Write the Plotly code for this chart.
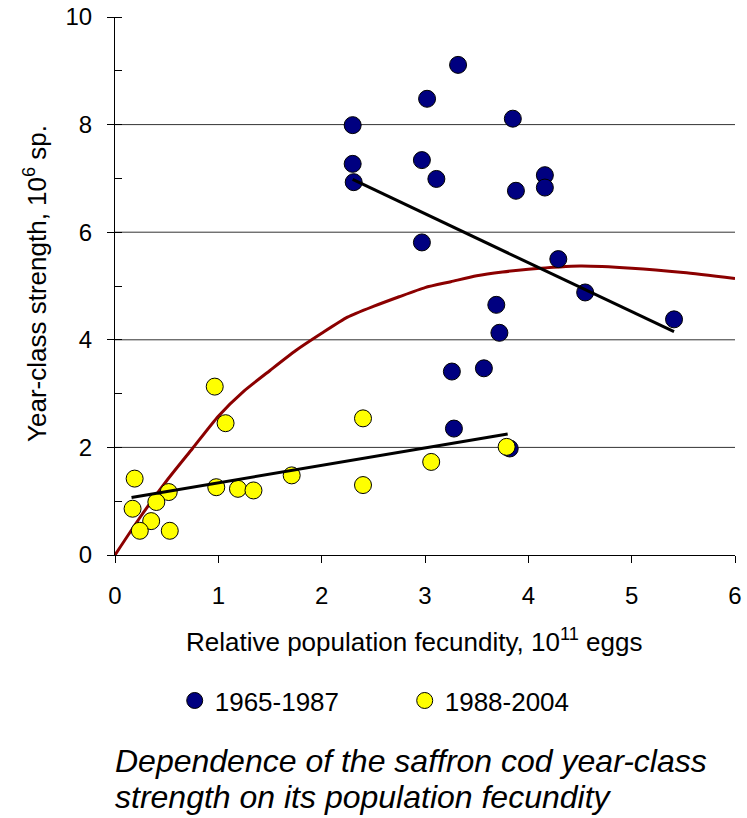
import plotly.graph_objects as go

# 1965-1987 (blue)
blue_x = [3.32, 3.02, 2.30, 3.85, 2.30, 2.97, 2.31, 3.11, 4.16, 4.16, 3.88, 2.97,
          4.29, 4.55, 5.41, 3.69, 3.72, 3.57, 3.26, 3.28, 3.82]
blue_y = [9.11, 8.48, 7.99, 8.11, 7.27, 7.34, 6.93, 6.99, 7.06, 6.83, 6.77, 5.81,
          5.50, 4.88, 4.38, 4.65, 4.13, 3.47, 3.41, 2.35, 1.98]

# 1988-2004 (yellow)
yel_x = [0.965, 1.07, 2.40, 3.79, 3.06, 2.40, 1.71, 0.98, 1.19, 1.34, 0.52, 0.19,
         0.17, 0.40, 0.35, 0.24, 0.53]
yel_y = [3.13, 2.45, 2.54, 2.01, 1.73, 1.30, 1.48, 1.26, 1.23, 1.20, 1.17, 1.42,
         0.86, 0.985, 0.63, 0.45, 0.45]

# trend lines (endpoints)
trend_blue_x = [2.30, 5.41]
trend_blue_y = [6.98, 4.15]
trend_yel_x = [0.16, 3.80]
trend_yel_y = [1.07, 2.25]

# stock-recruitment curve
curve_x = [0, 0.25, 0.5, 0.75, 1.0, 1.25, 1.5, 1.75, 2.0, 2.25, 2.5, 2.75, 3.0,
           3.25, 3.5, 3.75, 4.0, 4.5, 5.0, 5.5, 6.0]
curve_y = [0, 0.72, 1.38, 1.98, 2.58, 3.05, 3.43, 3.80, 4.12, 4.42, 4.62, 4.80, 4.97,
           5.08, 5.19, 5.26, 5.31, 5.37, 5.33, 5.25, 5.14]

grid_y = [2, 4, 6, 8]
x_ticks = [0, 1, 2, 3, 4, 5, 6]
y_ticks = [0, 2, 4, 6, 8, 10]

FONT = "Liberation Sans, Arial, sans-serif"

fig = go.Figure()

fig.add_trace(go.Scatter(x=curve_x, y=curve_y, mode="lines",
                         line=dict(color="#8B0000", width=3, shape="spline",
                                   smoothing=0.6),
                         showlegend=False, hoverinfo="skip"))
fig.add_trace(go.Scatter(x=blue_x, y=blue_y, mode="markers", name="1965-1987",
                         marker=dict(color="#000080", size=17,
                                     line=dict(color="black", width=1))))
fig.add_trace(go.Scatter(x=yel_x, y=yel_y, mode="markers", name="1988-2004",
                         marker=dict(color="#FFFF00", size=17,
                                     line=dict(color="black", width=1))))
fig.add_trace(go.Scatter(x=trend_blue_x, y=trend_blue_y, mode="lines",
                         line=dict(color="black", width=3), showlegend=False))
fig.add_trace(go.Scatter(x=trend_yel_x, y=trend_yel_y, mode="lines",
                         line=dict(color="black", width=3), showlegend=False))

for gy in grid_y:
    fig.add_shape(type="line", xref="paper", yref="y", x0=0, x1=1, y0=gy, y1=gy,
                  line=dict(color="#333333", width=1), layer="below")

fig.update_layout(
    width=747, height=818,
    margin=dict(l=115, r=12, t=17, b=263, autoexpand=False),
    paper_bgcolor="white", plot_bgcolor="white",
    font=dict(family=FONT, size=24, color="black"),
    showlegend=True,
    legend=dict(orientation="h", x=0.0963, xanchor="left", y=-0.2706, yanchor="middle",
                font=dict(size=26), entrywidth=185, entrywidthmode="pixels",
                bgcolor="rgba(0,0,0,0)"),
    xaxis=dict(range=[0, 6], tickvals=x_ticks, ticks="outside", ticklen=7,
               tickcolor="black", showline=True, linecolor="black", linewidth=1,
               showgrid=False, zeroline=False, tickfont=dict(size=24),
               ticklabelstandoff=12, automargin=False),
    yaxis=dict(range=[0, 10], tickvals=y_ticks, ticks="outside", ticklen=7,
               tickcolor="black", showline=True, linecolor="black", linewidth=1,
               showgrid=False, zeroline=False, tickfont=dict(size=24),
               ticklabelstandoff=10, automargin=False,
               minor=dict(ticks="inside", dtick=1, ticklen=7, tickcolor="black",
                          showgrid=False)),
)

fig.add_annotation(text="Relative population fecundity, 10<sup>11</sup> eggs",
                   xref="paper", yref="paper", x=0.482, y=-0.158,
                   xanchor="center", yanchor="middle", showarrow=False,
                   font=dict(size=26, family=FONT))
fig.add_annotation(text="Year-class strength, 10<sup>6</sup> sp.",
                   xref="paper", yref="paper", x=-0.128, y=0.505, textangle=-90,
                   xanchor="center", yanchor="middle", showarrow=False,
                   font=dict(size=26, family=FONT))

fig.add_annotation(text="<i>Dependence of the saffron cod year-class</i>",
                   xref="paper", yref="paper", x=-0.003, y=-0.3829,
                   xanchor="left", yanchor="middle", showarrow=False,
                   font=dict(size=32, family=FONT))
fig.add_annotation(text="<i>strength on its population fecundity</i>",
                   xref="paper", yref="paper", x=-0.003, y=-0.4498,
                   xanchor="left", yanchor="middle", showarrow=False,
                   font=dict(size=32, family=FONT))

fig.write_html("out.html", config={"displayModeBar": False},
               post_script="document.body.style.margin='0';")
